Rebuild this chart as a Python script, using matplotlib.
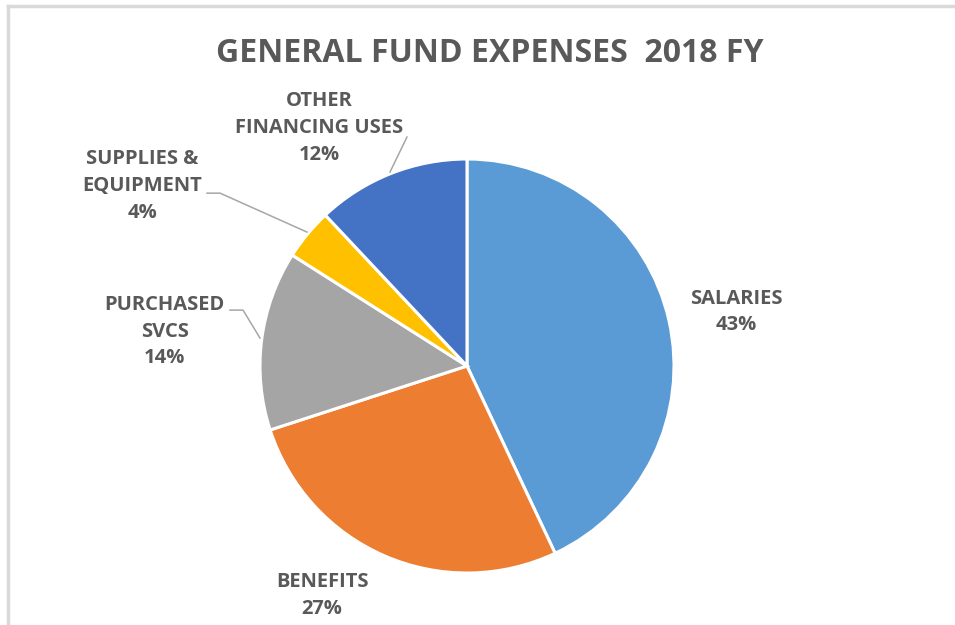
import matplotlib.pyplot as plt
from matplotlib.lines import Line2D

# expense categories and their share of the general fund
categories = ['SALARIES', 'BENEFITS', 'PURCHASED\nSVCS', 'SUPPLIES &\nEQUIPMENT', 'OTHER\nFINANCING USES']
shares = [43, 27, 14, 4, 12]
colors = ['#5B9BD5', '#ED7D31', '#A5A5A5', '#FFC000', '#4472C4']

# label centres in pie-radius units, plus leader line paths (None = no line)
label_pos = [(1.30, 0.26), (-0.70, -1.11), (-1.46, 0.165), (-1.568, 0.87), (-0.715, 1.15)]
leaders = [
    None,
    None,
    [(-1.145, 0.27), (-1.082, 0.27), (-1.0, 0.135)],
    [(-1.256, 0.835), (-1.193, 0.835), (-0.773, 0.647)],
    [(-0.29, 1.106), (-0.372, 0.937)],
]

txt = '#595959'
plt.rcParams['font.family'] = ['Open Sans', 'DejaVu Sans']

fig = plt.figure(figsize=(9.55, 6.25), dpi=100)
W, H = 955, 625
cx, cy, r = 467, 366, 207
ax = fig.add_axes([(cx - r) / W, (H - cy - r) / H, 2 * r / W, 2 * r / H])

ax.pie(shares, colors=colors, startangle=90, counterclock=False, radius=1,
       wedgeprops=dict(edgecolor='white', linewidth=2.2))
ax.set_xlim(-1, 1)
ax.set_ylim(-1, 1)
ax.set_aspect('equal')
ax.axis('off')

for name, val, (lx, ly), path in zip(categories, shares, label_pos, leaders):
    ax.text(lx, ly, f'{name}\n{val}%', ha='center', va='center', fontsize=14.5,
            fontweight='bold', color=txt, linespacing=1.44, clip_on=False)
    if path:
        xs, ys = zip(*path)
        ax.plot(xs, ys, color='#A6A6A6', lw=1.1, clip_on=False)

fig.text(490 / W, 1 - 53 / H, 'GENERAL FUND EXPENSES  2018 FY', ha='center', va='center',
         fontsize=23, fontweight='bold', color=txt)

# thin frame along the top and left edges
fig.add_artist(Line2D([7.5 / W, 7.5 / W], [0, 1 - 5.5 / H], transform=fig.transFigure,
                      color='#D9D9D9', lw=2.5))
fig.add_artist(Line2D([7.5 / W, 1], [1 - 5.5 / H, 1 - 5.5 / H], transform=fig.transFigure,
                      color='#D9D9D9', lw=2.5))

fig.savefig('out.png', dpi=100, facecolor='white')
